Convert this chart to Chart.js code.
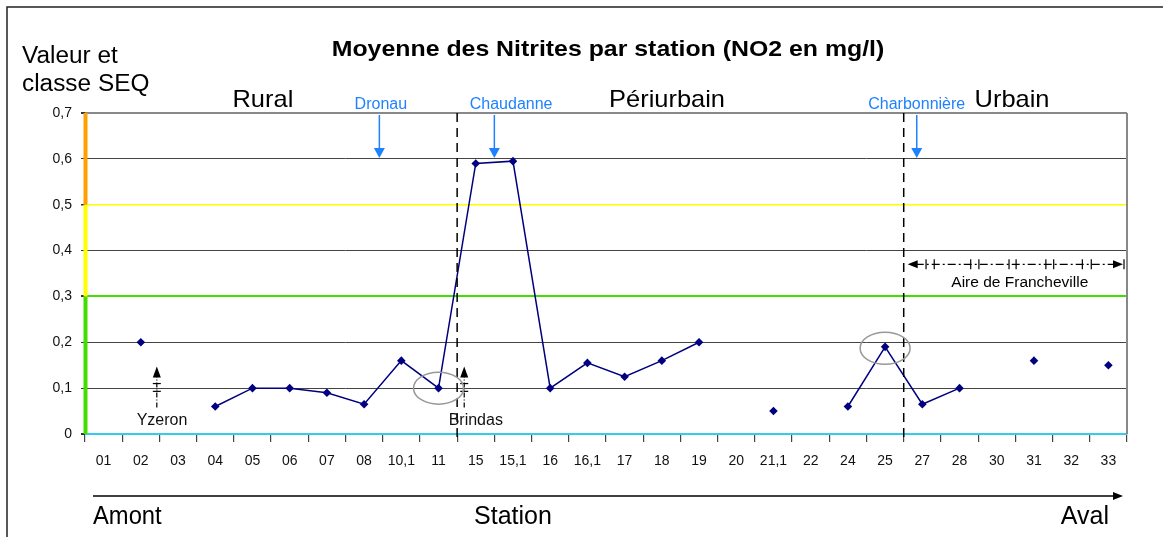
<!DOCTYPE html>
<html>
<head>
<meta charset="utf-8">
<script src="https://cdn.jsdelivr.net/npm/chart.js@4.4.0/dist/chart.umd.min.js"></script>
<style>
  body { margin: 0; background: #fff; }
  canvas { display: block; }
</style>
</head>
<body>
<canvas id="nitrites" width="1163" height="537"></canvas>
<script>
// stations along the Yzeron, upstream to downstream
var stations = ["01", "02", "03", "04", "05", "06", "07", "08", "10,1", "11", "15", "15,1", "16", "16,1",
  "17", "18", "19", "20", "21,1", "22", "24", "25", "27", "28", "30", "31", "32", "33"];
// mean NO2 in mg/l (null = no measure)
var nitrites = [null, 0.2, null, 0.06, 0.1, 0.1, 0.09, 0.065, 0.16, 0.1, 0.59, 0.595, 0.1, 0.155,
  0.125, 0.16, 0.2, null, 0.05, null, 0.06, 0.19, 0.065, 0.1, null, 0.16, null, 0.15];
var yTickLabels = ["0", "0,1", "0,2", "0,3", "0,4", "0,5", "0,6", "0,7"];
// SEQ class limits
var seqLimits = [0, 0.3, 0.5, 0.7];
var zones = ["Rural", "Périurbain", "Urbain"];
var affluents = ["Dronau", "Chaudanne", "Charbonnière"];
var communes = ["Yzeron", "Brindas"];

var FONT = '"Liberation Sans", Arial, sans-serif';
var BLUE = '#1e82ff';
var seqColors = ['#44dd00', '#ffff00', '#ffa000'];

function arrowHead(ctx, x, y, dx, dy, len, half) {
  // tip at (x,y), pointing in direction (dx,dy)
  ctx.beginPath();
  ctx.moveTo(x, y);
  ctx.lineTo(x - dx * len - dy * half, y - dy * len - dx * half);
  ctx.lineTo(x - dx * len + dy * half, y - dy * len + dx * half);
  ctx.closePath();
  ctx.fill();
}

// sx stretches the text horizontally (the source labels are a bit wide)
function text(ctx, str, x, y, font, align, color, sx) {
  sx = sx || 1;
  ctx.save();
  ctx.font = font;
  ctx.textAlign = align || 'left';
  ctx.textBaseline = 'alphabetic';
  ctx.fillStyle = color || '#000';
  ctx.translate(x, y);
  ctx.scale(sx, 1);
  ctx.fillText(str, 0, 0);
  ctx.restore();
}

var decor = {
  id: 'decor',
  beforeDraw: function(chart) {
    var ctx = chart.ctx;
    ctx.save();
    ctx.strokeStyle = '#222';
    ctx.lineWidth = 1.5;
    ctx.strokeRect(7, 7, 1200, 600);
    ctx.restore();
  },
  afterDraw: function(chart) {
    var ctx = chart.ctx, xs = chart.scales.x, ys = chart.scales.y, area = chart.chartArea;
    var xAt = function(i) { return xs.getPixelForValue(i); };
    var yAt = function(v) { return ys.getPixelForValue(v); };
    ctx.save();

    // right border
    ctx.strokeStyle = '#888';
    ctx.lineWidth = 2;
    ctx.beginPath();
    ctx.moveTo(area.right, area.top);
    ctx.lineTo(area.right, area.bottom);
    ctx.stroke();

    // SEQ classes on the value axis
    for (var k = 0; k < seqColors.length; k++) {
      var yTop = yAt(seqLimits[k + 1]), yBot = yAt(seqLimits[k]);
      ctx.fillStyle = seqColors[k];
      ctx.fillRect(area.left - 1.5, yTop, 4, yBot - yTop);
    }

    // titles
    text(ctx, 'Moyenne des Nitrites par station (NO2 en mg/l)', 608, 56, 'bold 22px ' + FONT, 'center', '#000', 1.13);
    text(ctx, 'Valeur et', 22, 63, '23px ' + FONT, 'left', '#000', 1.06);
    text(ctx, 'classe SEQ', 22, 91, '23px ' + FONT, 'left', '#000', 1.06);
    var zonePos = [4.28, 15.14, 24.41];
    zones.forEach(function(z, i) {
      text(ctx, z, xAt(zonePos[i]), 107, '24px ' + FONT, 'center', '#000', 1.06);
    });

    // zone limits
    ctx.strokeStyle = '#000';
    ctx.lineWidth = 1.5;
    ctx.setLineDash([9, 6]);
    [9.5, 21.5].forEach(function(b) {
      ctx.beginPath();
      ctx.moveTo(xAt(b), area.top);
      ctx.lineTo(xAt(b), area.bottom + 9);
      ctx.stroke();
    });
    ctx.setLineDash([]);

    // tributaries
    var affPos = [7.41, 10.5, 21.85], affText = [7.45, 10.95, 21.85];
    ctx.strokeStyle = BLUE;
    ctx.fillStyle = BLUE;
    ctx.lineWidth = 1.5;
    affluents.forEach(function(a, i) {
      var x = xAt(affPos[i]);
      ctx.beginPath();
      ctx.moveTo(x, area.top + 2);
      ctx.lineTo(x, area.top + 36);
      ctx.stroke();
      arrowHead(ctx, x, area.top + 45, 0, 1, 10, 5.5);
      text(ctx, a, xAt(affText[i]), 109, '16px ' + FONT, 'center', BLUE);
    });

    // commune limits
    var comPos = [1.43, 9.69], comText = [1.57, 10.0];
    communes.forEach(function(c, i) {
      var x = xAt(comPos[i]);
      ctx.strokeStyle = '#000';
      ctx.fillStyle = '#000';
      ctx.lineWidth = 1.2;
      ctx.setLineDash([5, 2, 1, 2]);
      ctx.beginPath();
      ctx.moveTo(x, yAt(0.058));
      ctx.lineTo(x, yAt(0.14));
      ctx.stroke();
      ctx.setLineDash([]);
      [0.11, 0.093].forEach(function(v) {
        ctx.beginPath();
        ctx.moveTo(x - 4, yAt(v));
        ctx.lineTo(x + 4, yAt(v));
        ctx.stroke();
      });
      arrowHead(ctx, x, yAt(0.147), 0, -1, 11, 4);
      text(ctx, c, xAt(comText[i]), 425, '16px ' + FONT, 'center', '#111');
    });

    // circled stations
    ctx.strokeStyle = '#999';
    ctx.lineWidth = 1.5;
    [[9, 0.1], [21, 0.187]].forEach(function(p) {
      ctx.beginPath();
      ctx.ellipse(xAt(p[0]), yAt(p[1]), 25, 16, 0, 0, Math.PI * 2);
      ctx.stroke();
    });

    // Aire de Francheville
    var fy = yAt(0.37), fx0 = xAt(21.5) + 4, fx1 = area.right - 4;
    ctx.strokeStyle = '#000';
    ctx.fillStyle = '#000';
    ctx.lineWidth = 1.2;
    ctx.setLineDash([8, 3, 2, 3]);
    ctx.beginPath();
    ctx.moveTo(fx0 + 8, fy);
    ctx.lineTo(fx1 - 8, fy);
    ctx.stroke();
    ctx.setLineDash([]);
    arrowHead(ctx, fx0, fy, -1, 0, 10, 4);
    arrowHead(ctx, fx1, fy, 1, 0, 10, 4);
    ctx.beginPath();
    ctx.moveTo(fx1 + 1, fy - 5);
    ctx.lineTo(fx1 + 1, fy + 5);
    [22.1, 22.32, 23.3, 23.52, 24.33, 24.52, 25.32, 25.53, 26.3, 26.54].forEach(function(t) {
      ctx.moveTo(xAt(t), fy - 5);
      ctx.lineTo(xAt(t), fy + 5);
    });
    ctx.stroke();
    text(ctx, 'Aire de Francheville', xAt(24.62), 287, '15.5px ' + FONT, 'center');

    // upstream -> downstream axis
    ctx.strokeStyle = '#000';
    ctx.fillStyle = '#000';
    ctx.lineWidth = 1.5;
    ctx.beginPath();
    ctx.moveTo(93, 496);
    ctx.lineTo(1114, 496);
    ctx.stroke();
    arrowHead(ctx, 1123, 496, 1, 0, 10, 4);
    text(ctx, 'Amont', 93, 524, '25px ' + FONT, 'left', '#000', 0.95);
    text(ctx, 'Station', 513, 524, '25px ' + FONT, 'center');
    text(ctx, 'Aval', 1109, 524, '25px ' + FONT, 'right');

    ctx.restore();
  }
};

new Chart(document.getElementById('nitrites'), {
  type: 'line',
  data: {
    labels: stations,
    datasets: [{
      data: nitrites,
      borderColor: '#000080',
      backgroundColor: '#000080',
      borderWidth: 1.5,
      pointStyle: 'rectRot',
      pointRadius: 4.3,
      pointBorderWidth: 0,
      spanGaps: false,
      tension: 0
    }]
  },
  options: {
    responsive: false,
    animation: false,
    events: [],
    layout: { padding: { top: 113, right: 36, left: 0, bottom: 0 } },
    plugins: { legend: { display: false }, tooltip: { enabled: false }, title: { display: false } },
    scales: {
      x: {
        offset: true,
        afterFit: function(s) { s.height = 103; },
        border: { display: false },
        grid: {
          offset: true,
          drawOnChartArea: false,
          drawTicks: true,
          tickLength: 8,
          tickColor: '#444',
          lineWidth: 1.2
        },
        ticks: {
          autoSkip: false,
          maxRotation: 0,
          padding: 11,
          color: '#111',
          font: { family: FONT, size: 14 }
        }
      },
      y: {
        min: 0,
        max: 0.7,
        afterFit: function(s) { s.width = 85; },
        border: { display: false },
        grid: {
          drawTicks: true,
          tickLength: 4,
          tickColor: '#333',
          color: function(c) {
            var v = c.tick ? Math.round(c.tick.value * 10) : -1;
            if (v === 0) return '#33ccee';
            if (v === 3) return '#44dd00';
            if (v === 5) return '#ffff00';
            if (v === 7) return '#888';
            return '#444';
          },
          lineWidth: function(c) {
            var v = c.tick ? Math.round(c.tick.value * 10) : -1;
            if (v === 0 || v === 3 || v === 7) return 2;
            if (v === 5) return 1.5;
            return 1;
          }
        },
        ticks: {
          stepSize: 0.1,
          padding: 9,
          color: '#111',
          font: { family: FONT, size: 14 },
          callback: function(value, index) { return yTickLabels[index]; }
        }
      }
    }
  },
  plugins: [decor]
});
</script>
</body>
</html>
